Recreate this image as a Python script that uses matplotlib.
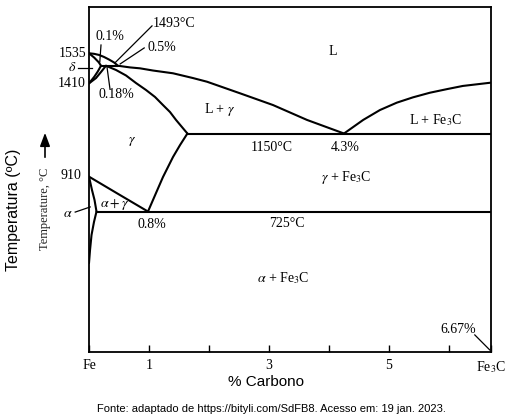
import numpy as np
import matplotlib.pyplot as plt

plt.rcParams['mathtext.fontset'] = 'stix'

# liquidus, delta side down to the eutectic
liq_c = [0, 0.083, 0.167, 0.25, 0.333, 0.417, 0.483, 0.683, 0.85, 1.067, 1.40,
         1.733, 1.967, 2.517, 3.067, 3.633, 4.25]
liq_t = [1587, 1584, 1578, 1567, 1553, 1537, 1519, 1510, 1505, 1493, 1478,
         1452, 1432, 1369, 1305, 1224, 1150]

# liquidus, cementite side
liq2_c = [4.25, 4.57, 4.85, 5.13, 5.40, 5.68, 5.97, 6.23, 6.70]
liq2_t = [1150, 1224, 1278, 1318, 1347, 1372, 1392, 1409, 1427]

# delta solidus, delta solvus and gamma boundary
dsol_c = [0, 0.088, 0.162, 0.20]
dsol_t = [1587, 1563, 1538, 1519]
dsolv_c = [0, 0.088, 0.145, 0.20]
dsolv_t = [1423, 1459, 1487, 1519]
dg_c = [0, 0.117, 0.20, 0.283]
dg_t = [1423, 1452, 1485, 1519]

# peritectic line
per_c = [0.20, 0.483]
per_t = [1519, 1519]

# gamma solidus
gsol_c = [0.283, 0.45, 0.617, 0.783, 0.95, 1.10, 1.233, 1.35, 1.45, 1.55, 1.64]
gsol_t = [1519, 1496, 1466, 1425, 1387, 1349, 1305, 1267, 1224, 1185, 1150]

# eutectic line
eut_c = [1.64, 6.70]
eut_t = [1150, 1150]

# A3 and Acm
a3_c = [0, 0.49, 0.983]
a3_t = [915, 820, 725]
acm_c = [0.983, 1.117, 1.233, 1.40, 1.517, 1.64]
acm_t = [725, 826, 913, 1022, 1087, 1150]

# alpha / alpha+gamma
ag_c = [0, 0.05, 0.092, 0.125]
ag_t = [915, 842, 788, 725]

# eutectoid line
eutd_c = [0.125, 6.70]
eutd_t = [725, 725]

# alpha solvus
asolv_c = [0.125, 0.083, 0.042, 0.017, 0]
asolv_t = [725, 668, 597, 515, 444]

xtick_pos = [0, 1, 2, 3, 4, 5, 6, 6.7]
xtick_lab = ['Fe', '1', '', '3', '', '5', '', 'Fe$_3$C']

fig = plt.figure(figsize=(5.09, 4.20), dpi=100)
ax = fig.add_axes([89/509, 1 - 352/420, 402/509, 345/420])

lines = [(liq_c, liq_t), (liq2_c, liq2_t), (dsol_c, dsol_t), (dsolv_c, dsolv_t),
         (dg_c, dg_t), (per_c, per_t), (gsol_c, gsol_t), (eut_c, eut_t),
         (a3_c, a3_t), (acm_c, acm_t), (ag_c, ag_t), (eutd_c, eutd_t),
         (asolv_c, asolv_t)]
for c, t in lines:
    ax.plot(c, t, color='black', lw=1.5, solid_capstyle='round',
            solid_joinstyle='round')

ax.set_xlim(0, 6.7)
ax.set_ylim(-40, 1839)
ax.set_yticks([])
ax.set_xticks(xtick_pos)
ax.set_xticklabels(xtick_lab, family='Liberation Serif', fontsize=10)
ax.tick_params(axis='x', direction='in', length=5, width=1, pad=5)
for s in ax.spines.values():
    s.set_linewidth(1.3)

serif = dict(family='Liberation Serif', fontsize=10)

def lab(x, y, s, ha='center', va='center'):
    ax.text(x, y, s, ha=ha, va=va, clip_on=False, **serif)

def leader(x0, y0, x1, y1):
    ax.plot([x0, x1], [y0, y1], color='black', lw=0.9, clip_on=False)

lab(-0.05, 1587, '1535', ha='right')
lab(-0.05, 1425, '1410', ha='right')
lab(-0.28, 1507, r'$\delta$')
leader(-0.18, 1507, 0.05, 1507)
lab(0.35, 1676, '0.1%')
leader(0.20, 1632, 0.18, 1540)
lab(1.07, 1747, '1493°C', ha='left')
leader(1.05, 1736, 0.43, 1534)
lab(0.97, 1616, '0.5%', ha='left')
leader(0.92, 1616, 0.52, 1529)
lab(0.45, 1360, '0.18%')
leader(0.35, 1392, 0.30, 1512)
lab(4.07, 1594, 'L')
lab(2.17, 1283, r'L + $\gamma$')
lab(0.72, 1104, r'$\gamma$')
lab(3.05, 1076, '1150°C')
lab(4.27, 1076, '4.3%')
lab(5.77, 1224, r'L + Fe$_3$C')
lab(4.28, 913, r'$\gamma$ + Fe$_3$C')
lab(-0.12, 924, '910', ha='right')
lab(-0.35, 717, r'$\alpha$')
leader(-0.23, 722, 0.02, 750)
lab(0.42, 766, r'$\alpha + \gamma$')
lab(1.05, 657, '0.8%')
lab(3.30, 662, '725°C')
lab(3.23, 363, r'$\alpha$ + Fe$_3$C')
lab(6.15, 85, '6.67%')
leader(6.43, 53, 6.68, -29)

fig.text(266/509, 1 - 382/420, '% Carbono', ha='center', va='center',
         family='Liberation Sans', fontsize=11)
fig.text(14/509, 1 - 210/420, 'Temperatura (ºC)', rotation=90, ha='center',
         va='center', family='Liberation Sans', fontsize=11.5)
fig.text(45/509, 1 - 209/420, 'Temperature, °C', rotation=90, ha='center',
         va='center', family='Liberation Serif', fontsize=9, color='#222222')
fig.add_artist(plt.Annotation('', xy=(45/509, 1 - 130/420), xytext=(45/509, 1 - 160/420),
                              xycoords='figure fraction', textcoords='figure fraction',
                              arrowprops=dict(arrowstyle='-|>,head_length=0.8,head_width=0.3',
                                              color='black', lw=1.2)))
fig.text(271/509, 1 - 409/420,
         'Fonte: adaptado de https://bityli.com/SdFB8. Acesso em: 19 jan. 2023.',
         ha='center', va='center', family='Liberation Sans', fontsize=8)

fig.savefig('out.png', dpi=100)
